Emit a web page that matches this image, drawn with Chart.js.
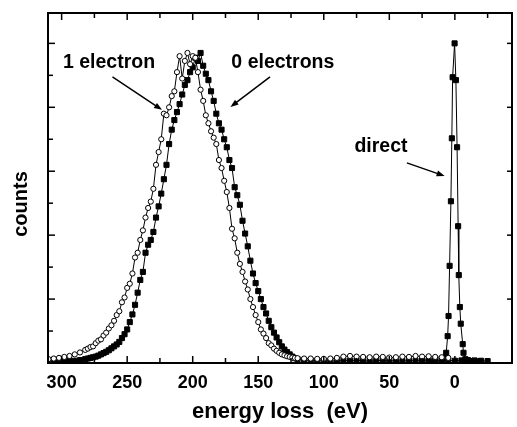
<!DOCTYPE html>
<html>
<head>
<meta charset="utf-8">
<script src="https://cdn.jsdelivr.net/npm/chart.js@4.4.0/dist/chart.umd.min.js"></script>
<style>
  html, body { margin: 0; padding: 0; background: #fff; }
  canvas { display: block; }
</style>
</head>
<body>
<canvas id="myChart" width="517" height="427"></canvas>
<script>
// energy loss grid (eV) shared by the two broad peaks
var lossEnergy = [
  310, 306, 302, 298, 294, 290, 286, 282,
  280, 278, 276, 274, 272, 270, 268, 266, 264, 262,
  260, 258, 256, 254, 252, 250, 248, 246, 244, 242,
  240, 238, 236, 234, 232, 230, 228, 226, 224, 222,
  220, 218, 216, 214, 212, 210, 208, 206, 204, 202,
  200, 198, 196, 194, 192, 190, 188, 186, 184, 182,
  180, 178, 176, 174, 172, 170, 168, 166, 164, 162,
  160, 158, 156, 154, 152, 150, 148, 146, 144, 142,
  140, 138, 136, 134, 132, 130, 128, 126, 124, 122, 120,
  115, 110, 105, 100, 95, 90, 85, 80, 75, 70, 65, 60, 55, 50, 45,
  40, 35, 30, 25, 20, 15, 10, 5, 0, -5, -10, -15, -20, -25
];

// open circles
var oneElectron = [
  0.12, 0.14, 0.16, 0.19, 0.22, 0.27, 0.33, 0.41,
  0.45, 0.50, 0.52, 0.62, 0.70, 0.74, 0.86, 0.95, 1.08, 1.18,
  1.32, 1.50, 1.62, 1.90, 2.05, 2.35, 2.48, 2.80, 3.30, 3.45,
  3.85, 4.15, 4.55, 4.85, 5.05, 5.45, 6.20, 6.60, 7.00, 7.80,
  7.75, 8.00, 8.35, 8.50, 9.10, 9.60, 8.90, 9.45, 9.70, 9.35,
  9.60, 9.55, 9.10, 8.55, 8.20, 7.75, 7.50, 7.25, 7.05, 6.85,
  6.35, 6.10, 5.70, 5.35, 4.85, 4.20, 3.90, 3.45, 3.10, 2.85,
  2.55, 2.30, 2.00, 1.75, 1.50, 1.28, 1.05, 0.92, 0.78, 0.62,
  0.55, 0.45, 0.38, 0.32, 0.27, 0.24, 0.21, 0.19, 0.17, 0.16, 0.15,
  0.14, 0.14, 0.13, 0.13, 0.14, 0.16, 0.20, 0.22, 0.20, 0.19, 0.18, 0.20, 0.19, 0.17, 0.18,
  0.20, 0.19, 0.22, 0.20, 0.21, 0.19, 0.18, 0.16, null, null, null, null, null, null
];

// filled squares
var zeroElectrons = [
  0.03, 0.04, 0.05, 0.05, 0.06, 0.07, 0.09, 0.12,
  0.14, 0.16, 0.18, 0.20, 0.23, 0.27, 0.31, 0.35, 0.40, 0.46,
  0.52, 0.58, 0.66, 0.78, 0.90, 1.05, 1.28, 1.52, 1.82, 2.20,
  2.60, 2.85, 3.45, 3.70, 3.85, 4.10, 4.55, 4.90, 5.30, 5.75,
  6.20, 6.85, 7.30, 7.60, 7.85, 8.10, 8.40, 8.70, 8.85, 9.10,
  9.25, 9.55, 9.45, 9.70, 9.30, 9.05, 8.85, 8.50, 8.20, 7.80,
  7.50, 7.30, 7.00, 6.75, 6.35, 6.10, 5.50, 5.25, 4.95, 4.45,
  4.05, 3.65, 3.20, 2.80, 2.50, 2.25, 2.00, 1.75, 1.55, 1.32,
  1.12, 0.95, 0.80, 0.65, 0.52, 0.42, 0.34, 0.27, 0.20, 0.15, 0.12,
  0.09, 0.08, 0.07, 0.07, 0.06, 0.07, 0.08, 0.07, 0.08, 0.07, 0.06, 0.07, 0.08, 0.07, 0.07,
  0.06, 0.08, 0.07, 0.08, 0.09, 0.08, 0.07, 0.08, 0.07, 0.08, 0.09, 0.08, 0.07, 0.06
];

// direct beam
var directEnergy = [20, 15, 10, 8, 6.6, 5.5, 4.8, 4.0, 3.0, 2.3, 1.7, 0.2, -0.8, -1.7, -2.5, -3.0, -3.8, -4.5, -6.0, -6.6, -8, -12, -18];
var directCounts = [0.05, 0.06, 0.08, 0.15, 0.32, 0.84, 1.47, 3.04, 5.06, 7.03, 8.94, 10.0, 8.85, 6.75, 4.28, 2.75, 1.75, 1.23, 0.59, 0.32, 0.12, 0.06, 0.05];

var xTickValues = [300, 275, 250, 225, 200, 175, 150, 125, 100, 75, 50, 25, 0, -25];
var yTickValues = [1, 2, 3, 4, 5, 6, 7, 8, 9, 10];

function pairs(xs, ys) {
  return xs.map(function (x, i) { return { x: x, y: ys[i] }; });
}

Chart.defaults.font.family = "'Liberation Sans', Arial, sans-serif";
Chart.defaults.color = '#000';

function line(c, x1, y1, x2, y2) {
  c.beginPath();
  c.moveTo(x1, y1);
  c.lineTo(x2, y2);
  c.stroke();
}

var frameAndNotes = {
  id: 'frameAndNotes',
  afterDraw: function (chart) {
    var c = chart.ctx, a = chart.chartArea;
    var xs = chart.scales.x, ys = chart.scales.y;
    var X = function (v) { return xs.getPixelForValue(v); };
    var Y = function (v) { return ys.getPixelForValue(v); };
    c.save();
    c.strokeStyle = '#000';
    c.fillStyle = '#000';

    // frame
    c.lineWidth = 2;
    c.strokeRect(a.left, a.top, a.right - a.left, a.bottom - a.top);

    // inward ticks
    c.lineWidth = 1.5;
    xTickValues.forEach(function (v) {
      var px = X(v);
      var len = v % 50 === 0 ? 7 : 5;
      line(c, px, a.bottom, px, a.bottom - len);
      line(c, px, a.top, px, a.top + len);
    });
    yTickValues.forEach(function (v) {
      var py = Y(v);
      line(c, a.left, py, a.left + (v % 2 === 0 ? 7 : 5), py);
      if (v % 2 === 0) line(c, a.right, py, a.right - 5, py);
    });

    // axis titles
    c.textAlign = 'center';
    c.textBaseline = 'alphabetic';
    c.font = "bold 22px 'Liberation Sans'";
    c.fillText('energy loss  (eV)', (a.left + a.right) / 2, 418);
    c.font = "bold 20px 'Liberation Sans'";
    c.save();
    c.translate(27, 204);
    c.rotate(-Math.PI / 2);
    c.fillText('counts', 0, 0);
    c.restore();

    // labels
    c.font = "bold 19.5px 'Liberation Sans'";
    c.textAlign = 'left';
    c.fillText('1 electron', X(299), Y(9.23));
    c.fillText('0 electrons', X(170.5), Y(9.23));
    c.fillText('direct', X(76.6), Y(6.6));

    // arrows
    function arrow(e1, v1, e2, v2) {
      var x1 = X(e1), y1 = Y(v1), x2 = X(e2), y2 = Y(v2);
      var ang = Math.atan2(y2 - y1, x2 - x1);
      c.lineWidth = 1.5;
      line(c, x1, y1, x2 - 5 * Math.cos(ang), y2 - 5 * Math.sin(ang));
      c.beginPath();
      c.moveTo(x2, y2);
      c.lineTo(x2 - 8 * Math.cos(ang) + 3 * Math.sin(ang), y2 - 8 * Math.sin(ang) - 3 * Math.cos(ang));
      c.lineTo(x2 - 8 * Math.cos(ang) - 3 * Math.sin(ang), y2 - 8 * Math.sin(ang) + 3 * Math.cos(ang));
      c.closePath();
      c.fill();
    }
    arrow(261.2, 8.95, 223.4, 7.92);
    arrow(141, 8.95, 171.2, 8.01);
    arrow(36.6, 6.26, 7.8, 5.85);
    c.restore();
  }
};

var ctx = document.getElementById('myChart').getContext('2d');
var myChart = new Chart(ctx, {
  type: 'scatter',
  data: {
    datasets: [
      {
        label: '1 electron',
        data: pairs(lossEnergy, oneElectron),
        showLine: true,
        borderColor: '#000',
        borderWidth: 1,
        pointStyle: 'circle',
        pointRadius: 2.6,
        pointBorderWidth: 1,
        pointBackgroundColor: '#fff',
        pointBorderColor: '#000',
        order: 1
      },
      {
        label: '0 electrons',
        data: pairs(lossEnergy, zeroElectrons),
        showLine: true,
        borderColor: '#000',
        borderWidth: 1,
        pointStyle: 'rect',
        pointRadius: 3.6,
        pointBackgroundColor: '#000',
        pointBorderColor: '#000',
        order: 2
      },
      {
        label: 'direct',
        data: pairs(directEnergy, directCounts),
        showLine: true,
        borderColor: '#000',
        borderWidth: 1,
        pointStyle: 'rect',
        pointRadius: 3.6,
        pointBackgroundColor: '#000',
        pointBorderColor: '#000',
        order: 3
      }
    ]
  },
  options: {
    responsive: false,
    animation: false,
    layout: { padding: { top: 13, right: 1, left: 0, bottom: 0 } },
    plugins: { legend: { display: false }, tooltip: { enabled: false } },
    scales: {
      x: {
        type: 'linear',
        reverse: true,
        min: -43.6,
        max: 310.4,
        afterFit: function (s) { s.height = 64; },
        afterBuildTicks: function (s) {
          s.ticks = xTickValues.map(function (v) { return { value: v }; });
        },
        grid: { display: false, drawTicks: false, tickLength: 0 },
        border: { display: false },
        ticks: {
          autoSkip: false,
          maxRotation: 0,
          padding: 9,
          font: { size: 18, weight: 'bold' },
          callback: function (v) { return v % 50 === 0 ? String(v) : ''; }
        }
      },
      y: {
        type: 'linear',
        min: 0,
        max: 10.95,
        afterFit: function (s) { s.width = 48; },
        grid: { display: false, drawTicks: false },
        border: { display: false },
        ticks: { display: false }
      }
    }
  },
  plugins: [frameAndNotes]
});
</script>
</body>
</html>
